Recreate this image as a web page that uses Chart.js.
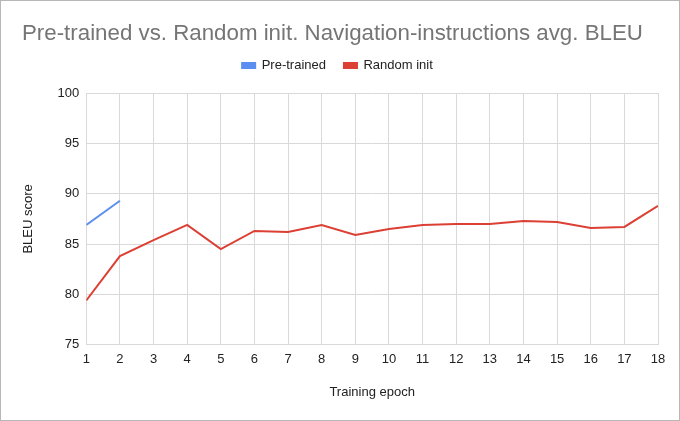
<!DOCTYPE html>
<html>
<head>
<meta charset="utf-8">
<script src="https://cdn.jsdelivr.net/npm/chart.js@4.4.1/dist/chart.umd.min.js"></script>
<style>
  html, body { margin: 0; padding: 0; background: #fff; }
  #wrap { width: 680px; height: 421px; box-sizing: border-box; border: 1px solid #b7b7b7; position: relative; }
  #chartTitle { position: absolute; left: 21px; top: 19px; font-family: "Liberation Sans", Arial, sans-serif; font-size: 22.3px; color: #757575; white-space: nowrap; }
  #box { position: absolute; left: 0; top: 0; width: 678px; height: 419px; }
</style>
</head>
<body>
<div id="wrap">
  <div id="box"><canvas id="bleuChart"></canvas></div>
  <div id="chartTitle">Pre-trained vs. Random init. Navigation-instructions avg. BLEU</div>
</div>
<script>
// données
const epochs = [1, 2, 3, 4, 5, 6, 7, 8, 9, 10, 11, 12, 13, 14, 15, 16, 17, 18];
const pretrained = [86.9, 89.3];
const randomInit = [79.4, 83.8, 85.4, 86.9, 84.5, 86.3, 86.2, 86.9, 85.9, 86.5, 86.9, 87.0, 87.0, 87.3, 87.2, 86.6, 86.7, 88.8];
const yTicks = [75, 80, 85, 90, 95, 100];

const font = "'Liberation Sans', Arial, sans-serif";

// espace supplémentaire sous la légende
const legendGap = {
  id: "legendGap",
  beforeUpdate(chart) {
    if (chart.legend && !chart.legend._gapped) {
      const fit = chart.legend.fit;
      chart.legend.fit = function () {
        fit.call(this);
        this.height += 11;
      };
      chart.legend._gapped = true;
    }
  },
};

const ctx = document.getElementById("bleuChart").getContext("2d");

const config = {
  type: "line",
  data: {
    datasets: [
      {
        label: "Pre-trained",
        data: pretrained.map((v, i) => ({ x: epochs[i], y: v })),
        borderColor: "#5a8ef0",
        backgroundColor: "#5a8ef0",
        borderWidth: 2,
        pointRadius: 0,
        tension: 0,
      },
      {
        label: "Random init",
        data: randomInit.map((v, i) => ({ x: epochs[i], y: v })),
        borderColor: "#dc4035",
        backgroundColor: "#dc4035",
        borderWidth: 2,
        pointRadius: 0,
        tension: 0,
      },
    ],
  },
  options: {
    responsive: true,
    maintainAspectRatio: false,
    animation: false,
    layout: { padding: { left: 16, right: 21, top: 40, bottom: 16 } },
    plugins: {
      tooltip: { enabled: false },
      legend: {
        position: "top",
        labels: {
          font: { family: font, size: 13 },
          color: "#222",
          boxWidth: 13,
          boxHeight: 5,
          padding: 18,
        },
      },
    },
    scales: {
      x: {
        type: "linear",
        min: 1,
        max: 18,
        ticks: { stepSize: 1, font: { family: font, size: 13 }, color: "#222", padding: 7 },
        grid: { color: "#d9d9d9", drawTicks: false },
        border: { color: "#d9d9d9" },
        title: { display: true, text: "Training epoch", font: { family: font, size: 13 }, color: "#222", padding: { top: 10 } },
      },
      y: {
        min: 75,
        max: 100,
        afterBuildTicks: (axis) => { axis.ticks = yTicks.map((v) => ({ value: v })); },
        ticks: { font: { family: font, size: 13 }, color: "#222", padding: 7 },
        grid: { color: "#d9d9d9", drawTicks: false },
        border: { color: "#d9d9d9" },
        title: { display: true, text: "BLEU score", font: { family: font, size: 13 }, color: "#222", padding: { bottom: 14 } },
      },
    },
  },
  plugins: [legendGap],
};

new Chart(ctx, config);
</script>
</body>
</html>
